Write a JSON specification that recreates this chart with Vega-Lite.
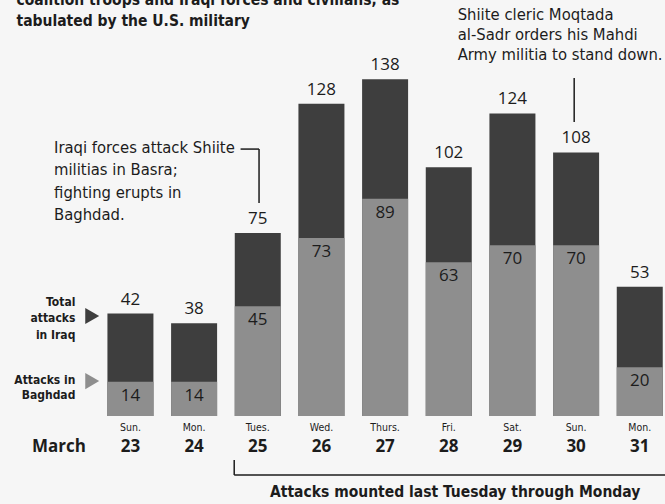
{
  "$schema": "https://vega.github.io/schema/vega-lite/v6.json",
  "autosize": "none",
  "width": 583,
  "height": 416,
  "padding": {"left": 93.6, "top": 0, "right": 0, "bottom": 88},
  "background": "#f6f6f6",
  "config": {"view": {"stroke": null}, "text": {"color": "#1c1c1c"}},
  "datasets": {
    "days": [
      {"i": 0, "day": "Sun.", "date": "23", "total": 42, "baghdad": 14},
      {"i": 1, "day": "Mon.", "date": "24", "total": 38, "baghdad": 14},
      {"i": 2, "day": "Tues.", "date": "25", "total": 75, "baghdad": 45},
      {"i": 3, "day": "Wed.", "date": "26", "total": 128, "baghdad": 73},
      {"i": 4, "day": "Thurs.", "date": "27", "total": 138, "baghdad": 89},
      {"i": 5, "day": "Fri.", "date": "28", "total": 102, "baghdad": 63},
      {"i": 6, "day": "Sat.", "date": "29", "total": 124, "baghdad": 70},
      {"i": 7, "day": "Sun.", "date": "30", "total": 108, "baghdad": 70},
      {"i": 8, "day": "Mon.", "date": "31", "total": 53, "baghdad": 20}
    ],
    "rules": [
      {"x": 1.73, "y": 109.4, "x2": 2.02, "y2": 109.4},
      {"x": 2.02, "y": 109.4, "x2": 2.02, "y2": 87.3},
      {"x": 6.97, "y": 138.5, "x2": 6.97, "y2": 120.5},
      {"x": 1.63, "y": -18, "x2": 1.63, "y2": -24.2},
      {"x": 1.63, "y": -24.2, "x2": 9.2, "y2": -24.2}
    ],
    "title": [
      {"x": -1.79, "y": 170.3, "t": "coalition troops and Iraqi forces and civilians, as"},
      {"x": -1.79, "y": 161.7, "t": "tabulated by the U.S. military"}
    ],
    "notes": [
      {"x": 5.14, "y": 164.3, "t": "Shiite cleric Moqtada"},
      {"x": 5.14, "y": 156.1, "t": "al-Sadr orders his Mahdi"},
      {"x": 5.14, "y": 147.9, "t": "Army militia to stand down."},
      {"x": -1.2, "y": 109.8, "t": "Iraqi forces attack Shiite"},
      {"x": -1.2, "y": 100.8, "t": "militias in Basra;"},
      {"x": -1.2, "y": 91.4, "t": "fighting erupts in"},
      {"x": -1.2, "y": 82.4, "t": "Baghdad."}
    ],
    "legend": [
      {"x": -0.865, "y": 46.7, "t": "Total"},
      {"x": -0.865, "y": 40.2, "t": "attacks"},
      {"x": -0.865, "y": 33.2, "t": "in Iraq"},
      {"x": -0.865, "y": 14.75, "t": "Attacks in"},
      {"x": -0.865, "y": 8.6, "t": "Baghdad"}
    ],
    "arrows": [
      {"x": -0.6, "y": 41, "k": "total"},
      {"x": -0.6, "y": 14.3, "k": "baghdad"}
    ],
    "bottom": [
      {"x": -0.7, "y": -12.7, "t": "March"}
    ],
    "caption": [
      {"x": 5.1, "y": -31.1, "t": "Attacks mounted last Tuesday through Monday"}
    ]
  },
  "layer": [
    {
      "data": {"name": "days"},
      "mark": {"type": "bar", "size": 46, "color": "#3e3e3e"},
      "encoding": {
        "x": {"field": "i", "type": "quantitative", "scale": {"domain": [-0.5, 8.5], "nice": false, "zero": false}, "axis": null},
        "y": {"field": "total", "type": "quantitative", "scale": {"domain": [0, 170.5], "nice": false}, "axis": null}
      }
    },
    {
      "data": {"name": "days"},
      "mark": {"type": "bar", "size": 46, "color": "#8e8e8e"},
      "encoding": {
        "x": {"field": "i", "type": "quantitative"},
        "y": {"field": "baghdad", "type": "quantitative"}
      }
    },
    {
      "data": {"name": "days"},
      "mark": {"type": "text", "font": "Open Sans", "fontSize": 17, "baseline": "middle", "dy": -14},
      "encoding": {
        "x": {"field": "i", "type": "quantitative"},
        "y": {"field": "total", "type": "quantitative"},
        "text": {"field": "total"}
      }
    },
    {
      "data": {"name": "days"},
      "mark": {"type": "text", "font": "Open Sans", "fontSize": 17, "baseline": "middle", "dy": 14},
      "encoding": {
        "x": {"field": "i", "type": "quantitative"},
        "y": {"field": "baghdad", "type": "quantitative"},
        "text": {"field": "baghdad"}
      }
    },
    {
      "data": {"name": "days"},
      "mark": {"type": "text", "font": "'DejaVu Sans Condensed', Roboto, sans-serif", "fontSize": 10.5, "baseline": "middle"},
      "encoding": {
        "x": {"field": "i", "type": "quantitative"},
        "y": {"datum": -4.9},
        "text": {"field": "day"}
      }
    },
    {
      "data": {"name": "days"},
      "mark": {"type": "text", "font": "Open Sans", "fontWeight": "bold", "fontSize": 17, "baseline": "middle"},
      "encoding": {
        "x": {"field": "i", "type": "quantitative"},
        "y": {"datum": -12.9},
        "text": {"field": "date"}
      }
    },
    {
      "data": {"name": "rules"},
      "mark": {"type": "rule", "color": "#1c1c1c", "strokeWidth": 1.5},
      "encoding": {
        "x": {"field": "x", "type": "quantitative"},
        "x2": {"field": "x2"},
        "y": {"field": "y", "type": "quantitative"},
        "y2": {"field": "y2"}
      }
    },
    {
      "data": {"name": "title"},
      "mark": {"type": "text", "font": "'DejaVu Sans Condensed', Roboto, sans-serif", "fontWeight": "bold", "fontSize": 15.5, "align": "left", "baseline": "middle"},
      "encoding": {
        "x": {"field": "x", "type": "quantitative"},
        "y": {"field": "y", "type": "quantitative"},
        "text": {"field": "t"}
      }
    },
    {
      "data": {"name": "notes"},
      "mark": {"type": "text", "font": "'DejaVu Sans Condensed', Roboto, sans-serif", "fontSize": 16.5, "align": "left", "baseline": "middle"},
      "encoding": {
        "x": {"field": "x", "type": "quantitative"},
        "y": {"field": "y", "type": "quantitative"},
        "text": {"field": "t"}
      }
    },
    {
      "data": {"name": "legend"},
      "mark": {"type": "text", "font": "'DejaVu Sans Condensed', Roboto, sans-serif", "fontWeight": "bold", "fontSize": 12, "align": "right", "baseline": "middle"},
      "encoding": {
        "x": {"field": "x", "type": "quantitative"},
        "y": {"field": "y", "type": "quantitative"},
        "text": {"field": "t"}
      }
    },
    {
      "data": {"name": "arrows"},
      "mark": {"type": "point", "shape": "triangle-right", "filled": true, "size": 260, "opacity": 1},
      "encoding": {
        "x": {"field": "x", "type": "quantitative"},
        "y": {"field": "y", "type": "quantitative"},
        "color": {"field": "k", "type": "nominal", "scale": {"domain": ["total", "baghdad"], "range": ["#3e3e3e", "#8e8e8e"]}, "legend": null}
      }
    },
    {
      "data": {"name": "bottom"},
      "mark": {"type": "text", "font": "Open Sans", "fontWeight": "bold", "fontSize": 17, "align": "right", "baseline": "middle"},
      "encoding": {
        "x": {"field": "x", "type": "quantitative"},
        "y": {"field": "y", "type": "quantitative"},
        "text": {"field": "t"}
      }
    },
    {
      "data": {"name": "caption"},
      "mark": {"type": "text", "font": "'DejaVu Sans Condensed', Roboto, sans-serif", "fontWeight": "bold", "fontSize": 15.5, "align": "center", "baseline": "middle"},
      "encoding": {
        "x": {"field": "x", "type": "quantitative"},
        "y": {"field": "y", "type": "quantitative"},
        "text": {"field": "t"}
      }
    }
  ]
}
